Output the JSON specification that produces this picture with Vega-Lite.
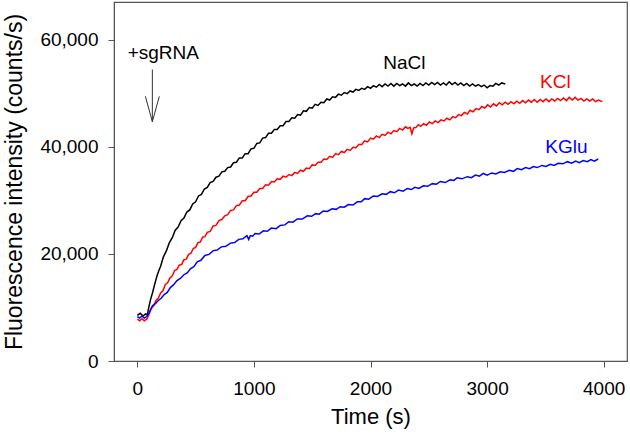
{
  "$schema": "https://vega.github.io/schema/vega-lite/v6.json",
  "width": 513,
  "height": 359,
  "autosize": {"type": "none"},
  "padding": {"left": 114, "top": 2, "right": 3, "bottom": 75},
  "config": {
    "font": "Liberation Sans",
    "view": {"stroke": "#555", "strokeWidth": 1.2},
    "axis": {"grid": false, "domainColor": "#555", "tickColor": "#555", "labelColor": "#000", "titleColor": "#000", "labelFontSize": 19, "titleFontSize": 22, "titleFontWeight": "normal", "tickSize": 6, "labelFont": "Liberation Sans", "titleFont": "Liberation Sans"}
  },
  "datasets": {
    "nacl": [
      {"t":0,"f":8500},{"t":25,"f":8900},{"t":50,"f":8400},{"t":70,"f":8800},{"t":85,"f":8600},{"t":100,"f":10200},{"t":115,"f":11600},{"t":130,"f":12700},{"t":150,"f":14400},{"t":169,"f":15900},
      {"t":185,"f":16900},{"t":200,"f":17700},{"t":223,"f":19400},{"t":250,"f":20600},{"t":275,"f":22100},{"t":300,"f":23000},{"t":325,"f":24400},{"t":350,"f":25000},{"t":375,"f":26200},{"t":400,"f":26700},
      {"t":425,"f":27800},{"t":450,"f":28200},{"t":475,"f":29300},{"t":500,"f":29700},{"t":525,"f":30800},{"t":550,"f":31100},{"t":575,"f":32100},{"t":600,"f":32400},{"t":625,"f":33300},{"t":650,"f":33500},
      {"t":675,"f":34300},{"t":700,"f":34500},{"t":725,"f":35300},{"t":750,"f":35400},{"t":775,"f":36100},{"t":800,"f":36200},{"t":825,"f":37000},{"t":850,"f":37100},{"t":875,"f":37900},{"t":900,"f":37900},
      {"t":925,"f":38700},{"t":950,"f":38700},{"t":975,"f":39600},{"t":1000,"f":39700},{"t":1025,"f":40600},{"t":1050,"f":40700},{"t":1075,"f":41600},{"t":1100,"f":41700},{"t":1125,"f":42500},{"t":1150,"f":42500},
      {"t":1175,"f":43200},{"t":1200,"f":43200},{"t":1225,"f":43900},{"t":1250,"f":43900},{"t":1275,"f":44700},{"t":1300,"f":44700},{"t":1325,"f":45400},{"t":1350,"f":45300},{"t":1375,"f":46000},{"t":1400,"f":45900},
      {"t":1425,"f":46700},{"t":1450,"f":46600},{"t":1475,"f":47300},{"t":1500,"f":47200},{"t":1525,"f":47900},{"t":1550,"f":47700},{"t":1575,"f":48300},{"t":1600,"f":48200},{"t":1625,"f":48900},{"t":1650,"f":48700},
      {"t":1675,"f":49300},{"t":1700,"f":49200},{"t":1725,"f":49800},{"t":1750,"f":49600},{"t":1775,"f":50100},{"t":1800,"f":49900},{"t":1825,"f":50400},{"t":1850,"f":50200},{"t":1875,"f":50700},{"t":1900,"f":50500},
      {"t":1925,"f":50900},{"t":1950,"f":50700},{"t":1975,"f":51200},{"t":2000,"f":50900},{"t":2025,"f":51400},{"t":2050,"f":51100},{"t":2075,"f":51600},{"t":2100,"f":51200},{"t":2125,"f":51700},{"t":2150,"f":51300},
      {"t":2175,"f":51800},{"t":2200,"f":51300},{"t":2225,"f":51800},{"t":2250,"f":51400},{"t":2275,"f":51700},{"t":2300,"f":51300},{"t":2325,"f":51900},{"t":2350,"f":51400},{"t":2375,"f":51700},{"t":2400,"f":51300},
      {"t":2425,"f":51800},{"t":2450,"f":51400},{"t":2475,"f":51900},{"t":2500,"f":51500},{"t":2525,"f":52000},{"t":2550,"f":51600},{"t":2575,"f":52000},{"t":2600,"f":51500},{"t":2625,"f":51900},{"t":2650,"f":51500},
      {"t":2675,"f":52100},{"t":2700,"f":51600},{"t":2725,"f":52000},{"t":2750,"f":51500},{"t":2775,"f":51900},{"t":2800,"f":51400},{"t":2825,"f":51800},{"t":2850,"f":51300},{"t":2875,"f":51700},{"t":2900,"f":51300},
      {"t":2925,"f":51600},{"t":2950,"f":51200},{"t":2975,"f":51500},{"t":3000,"f":51000},{"t":3025,"f":51400},{"t":3050,"f":51300},{"t":3075,"f":51800},{"t":3100,"f":51500},{"t":3125,"f":51900},{"t":3156,"f":51700}
    ],
    "kcl": [
      {"t":0,"f":7800},{"t":20,"f":7500},{"t":40,"f":7900},{"t":60,"f":7500},{"t":80,"f":7800},{"t":95,"f":8400},{"t":120,"f":9800},{"t":140,"f":10300},{"t":160,"f":11300},{"t":180,"f":11700},
      {"t":200,"f":12700},{"t":220,"f":13100},{"t":240,"f":14300},{"t":260,"f":14600},{"t":280,"f":15500},{"t":300,"f":15900},{"t":320,"f":16900},{"t":340,"f":17100},{"t":360,"f":17900},{"t":380,"f":18000},
      {"t":400,"f":18900},{"t":420,"f":19000},{"t":440,"f":19900},{"t":460,"f":20100},{"t":480,"f":21000},{"t":500,"f":21200},{"t":520,"f":22100},{"t":540,"f":22200},{"t":560,"f":23100},{"t":580,"f":23200},
      {"t":600,"f":24000},{"t":625,"f":24200},{"t":650,"f":25200},{"t":675,"f":25300},{"t":700,"f":26200},{"t":725,"f":26400},{"t":750,"f":27100},{"t":775,"f":27300},{"t":800,"f":28100},{"t":825,"f":28200},
      {"t":850,"f":29000},{"t":875,"f":29100},{"t":900,"f":29900},{"t":925,"f":29900},{"t":950,"f":30700},{"t":975,"f":30800},{"t":1000,"f":31500},{"t":1025,"f":31500},{"t":1050,"f":32200},{"t":1075,"f":32200},
      {"t":1100,"f":32900},{"t":1125,"f":32800},{"t":1150,"f":33500},{"t":1175,"f":33400},{"t":1200,"f":34000},{"t":1225,"f":33900},{"t":1250,"f":34500},{"t":1275,"f":34300},{"t":1300,"f":34800},{"t":1325,"f":34600},
      {"t":1350,"f":35200},{"t":1375,"f":35000},{"t":1400,"f":35600},{"t":1425,"f":35400},{"t":1450,"f":36000},{"t":1475,"f":35900},{"t":1500,"f":36600},{"t":1525,"f":36500},{"t":1550,"f":37100},{"t":1575,"f":37100},
      {"t":1600,"f":37700},{"t":1625,"f":37600},{"t":1650,"f":38200},{"t":1675,"f":38000},{"t":1700,"f":38700},{"t":1725,"f":38500},{"t":1750,"f":39100},{"t":1775,"f":38900},{"t":1800,"f":39500},{"t":1825,"f":39300},
      {"t":1850,"f":39900},{"t":1875,"f":39800},{"t":1900,"f":40400},{"t":1925,"f":40400},{"t":1950,"f":41100},{"t":1975,"f":40900},{"t":2000,"f":41600},{"t":2025,"f":41400},{"t":2050,"f":42000},{"t":2075,"f":41700},
      {"t":2100,"f":42300},{"t":2125,"f":42100},{"t":2150,"f":42700},{"t":2175,"f":42400},{"t":2200,"f":43000},{"t":2225,"f":42800},{"t":2250,"f":43400},{"t":2275,"f":43100},{"t":2300,"f":43700},{"t":2320,"f":43400},
      {"t":2340,"f":43600},{"t":2355,"f":42400},{"t":2370,"f":43500},{"t":2390,"f":43600},{"t":2410,"f":44100},{"t":2430,"f":43800},{"t":2455,"f":44300},{"t":2480,"f":44000},{"t":2505,"f":44600},{"t":2530,"f":44300},
      {"t":2555,"f":44800},{"t":2580,"f":44500},{"t":2605,"f":45000},{"t":2630,"f":44800},{"t":2655,"f":45300},{"t":2680,"f":45000},{"t":2705,"f":45600},{"t":2730,"f":45400},{"t":2755,"f":46000},{"t":2780,"f":45800},
      {"t":2805,"f":46400},{"t":2830,"f":46100},{"t":2855,"f":46800},{"t":2880,"f":46500},{"t":2905,"f":47100},{"t":2930,"f":46900},{"t":2955,"f":47500},{"t":2980,"f":47200},{"t":3005,"f":47800},{"t":3030,"f":47400},
      {"t":3055,"f":48000},{"t":3080,"f":47600},{"t":3105,"f":48200},{"t":3130,"f":47800},{"t":3155,"f":48300},{"t":3180,"f":47900},{"t":3205,"f":48400},{"t":3230,"f":48000},{"t":3255,"f":48500},{"t":3280,"f":48100},
      {"t":3305,"f":48600},{"t":3330,"f":48200},{"t":3355,"f":48700},{"t":3380,"f":48300},{"t":3405,"f":48800},{"t":3430,"f":48300},{"t":3455,"f":48800},{"t":3480,"f":48400},{"t":3505,"f":48900},{"t":3530,"f":48400},
      {"t":3555,"f":48900},{"t":3580,"f":48500},{"t":3605,"f":49000},{"t":3630,"f":48600},{"t":3655,"f":49100},{"t":3680,"f":48600},{"t":3705,"f":49200},{"t":3730,"f":48700},{"t":3755,"f":49200},{"t":3780,"f":48700},
      {"t":3805,"f":49000},{"t":3830,"f":48500},{"t":3855,"f":48900},{"t":3880,"f":48500},{"t":3905,"f":48900},{"t":3930,"f":48400},{"t":3955,"f":48700},{"t":3988,"f":48400}
    ],
    "kglu": [
      {"t":0,"f":8300},{"t":20,"f":8000},{"t":40,"f":8400},{"t":60,"f":8000},{"t":80,"f":8300},{"t":95,"f":8700},{"t":115,"f":9700},{"t":130,"f":10300},{"t":155,"f":10700},{"t":180,"f":11300},
      {"t":205,"f":11700},{"t":230,"f":12400},{"t":257,"f":12800},{"t":283,"f":13700},{"t":310,"f":14200},{"t":340,"f":15000},{"t":369,"f":15400},{"t":400,"f":16100},{"t":430,"f":16500},{"t":455,"f":17200},
      {"t":485,"f":17600},{"t":514,"f":18500},{"t":545,"f":18800},{"t":580,"f":19700},{"t":615,"f":19900},{"t":652,"f":20600},{"t":685,"f":20700},{"t":720,"f":21300},{"t":760,"f":21400},{"t":798,"f":22000},
      {"t":835,"f":22100},{"t":870,"f":22700},{"t":905,"f":22800},{"t":940,"f":23400},{"t":955,"f":22700},{"t":970,"f":23400},{"t":990,"f":23300},{"t":1010,"f":23800},{"t":1045,"f":23700},{"t":1081,"f":24300},
      {"t":1115,"f":24200},{"t":1150,"f":24800},{"t":1190,"f":24700},{"t":1226,"f":25300},{"t":1265,"f":25400},{"t":1300,"f":26000},{"t":1335,"f":25900},{"t":1372,"f":26500},{"t":1415,"f":26500},{"t":1458,"f":27100},
      {"t":1495,"f":27000},{"t":1530,"f":27500},{"t":1560,"f":27400},{"t":1595,"f":28000},{"t":1630,"f":27900},{"t":1670,"f":28400},{"t":1705,"f":28300},{"t":1741,"f":28800},{"t":1775,"f":28700},{"t":1810,"f":29200},
      {"t":1850,"f":29100},{"t":1887,"f":29700},{"t":1920,"f":29700},{"t":1950,"f":30300},{"t":1985,"f":30200},{"t":2024,"f":30800},{"t":2060,"f":30700},{"t":2100,"f":31200},{"t":2135,"f":31100},{"t":2170,"f":31600},
      {"t":2205,"f":31400},{"t":2240,"f":31900},{"t":2280,"f":31700},{"t":2315,"f":32200},{"t":2350,"f":32000},{"t":2380,"f":32400},{"t":2415,"f":32200},{"t":2453,"f":32700},{"t":2490,"f":32600},{"t":2530,"f":33100},
      {"t":2565,"f":33000},{"t":2599,"f":33500},{"t":2640,"f":33300},{"t":2684,"f":33800},{"t":2715,"f":33700},{"t":2744,"f":34200},{"t":2785,"f":34000},{"t":2830,"f":34400},{"t":2865,"f":34200},{"t":2900,"f":34700},
      {"t":2935,"f":34500},{"t":2967,"f":35000},{"t":3000,"f":34700},{"t":3040,"f":35100},{"t":3075,"f":34900},{"t":3113,"f":35300},{"t":3150,"f":35200},{"t":3190,"f":35600},{"t":3225,"f":35400},{"t":3259,"f":35900},
      {"t":3295,"f":35700},{"t":3330,"f":36100},{"t":3365,"f":35900},{"t":3396,"f":36300},{"t":3430,"f":36100},{"t":3470,"f":36500},{"t":3505,"f":36300},{"t":3542,"f":36700},{"t":3575,"f":36500},{"t":3610,"f":36900},
      {"t":3650,"f":36800},{"t":3688,"f":37200},{"t":3725,"f":36900},{"t":3760,"f":37300},{"t":3790,"f":37000},{"t":3825,"f":37400},{"t":3860,"f":37200},{"t":3890,"f":37600},{"t":3920,"f":37300},{"t":3953,"f":37700}
    ],
    "labels": [
      {"series": "NaCl", "t": 2290, "f": 55700},
      {"series": "KCl", "t": 3585, "f": 52150},
      {"series": "KGlu", "t": 3680, "f": 40000}
    ],
    "note": [{"text": "+sgRNA", "t": 223, "f": 57570}],
    "arrow": [{"t": 129, "f": 54400, "f2": 44670}],
    "heads": [
      {"t": 69, "f": 49400, "t2": 129, "f2": 44670},
      {"t": 189, "f": 49400, "t2": 129, "f2": 44670}
    ]
  },
  "layer": [
    {
      "data": {"name": "nacl"},
      "mark": {"type": "line", "strokeWidth": 1.5, "color": "#000000"},
      "encoding": {
        "x": {"field": "t", "type": "quantitative", "scale": {"domain": [-200, 4200], "nice": false, "zero": false},
              "axis": {"values": [0, 1000, 2000, 3000, 4000], "title": "Time (s)", "labelPadding": 12, "titlePadding": 8, "format": "d"}},
        "y": {"field": "f", "type": "quantitative", "scale": {"domain": [0, 67000], "nice": false},
              "axis": {"values": [0, 20000, 40000, 60000], "format": ",d", "title": "Fluorescence intensity (counts/s)", "labelPadding": 10, "titlePadding": 13, "titleFontSize": 23}}
      }
    },
    {
      "data": {"name": "kcl"},
      "mark": {"type": "line", "strokeWidth": 1.5, "color": "#ff0000"},
      "encoding": {
        "x": {"field": "t", "type": "quantitative"},
        "y": {"field": "f", "type": "quantitative"}
      }
    },
    {
      "data": {"name": "kglu"},
      "mark": {"type": "line", "strokeWidth": 1.5, "color": "#0000ff"},
      "encoding": {
        "x": {"field": "t", "type": "quantitative"},
        "y": {"field": "f", "type": "quantitative"}
      }
    },
    {
      "data": {"name": "labels"},
      "mark": {"type": "text", "fontSize": 19, "font": "Liberation Sans", "baseline": "middle", "align": "center"},
      "encoding": {
        "x": {"field": "t", "type": "quantitative"},
        "y": {"field": "f", "type": "quantitative"},
        "text": {"field": "series"},
        "color": {"field": "series", "type": "nominal", "scale": {"domain": ["NaCl", "KCl", "KGlu"], "range": ["#000000", "#ff0000", "#0000ff"]}, "legend": null}
      }
    },
    {
      "data": {"name": "note"},
      "mark": {"type": "text", "fontSize": 19, "font": "Liberation Sans", "baseline": "middle", "align": "center", "color": "#000"},
      "encoding": {
        "x": {"field": "t", "type": "quantitative"},
        "y": {"field": "f", "type": "quantitative"},
        "text": {"field": "text"}
      }
    },
    {
      "data": {"name": "arrow"},
      "mark": {"type": "rule", "color": "#333", "strokeWidth": 1},
      "encoding": {
        "x": {"field": "t", "type": "quantitative"},
        "y": {"field": "f", "type": "quantitative"},
        "y2": {"field": "f2"}
      }
    },
    {
      "data": {"name": "heads"},
      "mark": {"type": "rule", "color": "#333", "strokeWidth": 1},
      "encoding": {
        "x": {"field": "t", "type": "quantitative"},
        "x2": {"field": "t2"},
        "y": {"field": "f", "type": "quantitative"},
        "y2": {"field": "f2"}
      }
    }
  ]
}
